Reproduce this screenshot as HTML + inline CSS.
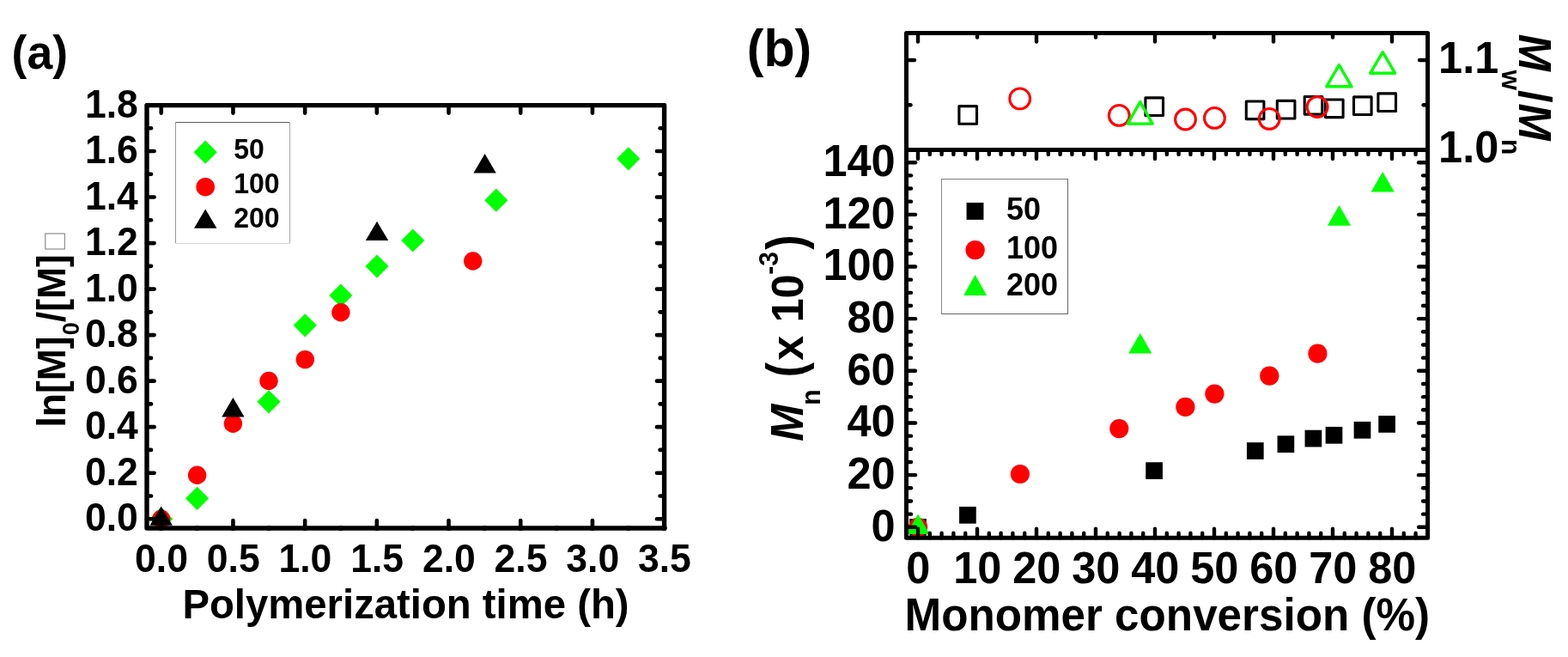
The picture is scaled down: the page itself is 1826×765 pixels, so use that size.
<!DOCTYPE html>
<html><head><meta charset="utf-8"><title>Polymerization kinetics</title>
<style>
html,body{margin:0;padding:0;background:#fff;}
body{width:1826px;height:765px;overflow:hidden;}
svg{display:block;}
text{font-family:"Liberation Sans", Arial, sans-serif;fill:#000;}
</style></head><body>
<svg width="1826" height="765" viewBox="0 0 1826 765">
<rect width="1826" height="765" fill="#fff"/>
<path d="M187.70 590.60L201.30 604.20L187.70 617.80L174.10 604.20Z" fill="#00ff00"/>
<path d="M229.60 566.70L243.20 580.30L229.60 593.90L216.00 580.30Z" fill="#00ff00"/>
<path d="M313.00 454.20L326.60 467.80L313.00 481.40L299.40 467.80Z" fill="#00ff00"/>
<path d="M355.30 365.20L368.90 378.80L355.30 392.40L341.70 378.80Z" fill="#00ff00"/>
<path d="M396.90 330.40L410.50 344.00L396.90 357.60L383.30 344.00Z" fill="#00ff00"/>
<path d="M439.00 296.50L452.60 310.10L439.00 323.70L425.40 310.10Z" fill="#00ff00"/>
<path d="M480.80 266.40L494.40 280.00L480.80 293.60L467.20 280.00Z" fill="#00ff00"/>
<path d="M577.80 219.60L591.40 233.20L577.80 246.80L564.20 233.20Z" fill="#00ff00"/>
<path d="M731.80 171.20L745.40 184.80L731.80 198.40L718.20 184.80Z" fill="#00ff00"/>
<circle cx="187.70" cy="604.20" r="10.7" fill="#ff0000"/>
<circle cx="229.60" cy="553.30" r="10.7" fill="#ff0000"/>
<circle cx="271.40" cy="493.20" r="10.7" fill="#ff0000"/>
<circle cx="313.00" cy="443.50" r="10.7" fill="#ff0000"/>
<circle cx="355.30" cy="418.60" r="10.7" fill="#ff0000"/>
<circle cx="396.90" cy="363.70" r="10.7" fill="#ff0000"/>
<circle cx="550.70" cy="304.00" r="10.7" fill="#ff0000"/>
<path d="M187.70 589.50L200.90 611.80L174.50 611.80Z" fill="#000"/>
<path d="M271.40 463.10L284.60 485.40L258.20 485.40Z" fill="#000"/>
<path d="M439.00 257.80L452.20 280.10L425.80 280.10Z" fill="#000"/>
<path d="M564.60 179.10L577.80 201.40L551.40 201.40Z" fill="#000"/>
<rect x="171.0" y="122.6" width="602.60" height="492.40" fill="none" stroke="#000" stroke-width="5.4" stroke-linejoin="round"/>
<line x1="187.74" y1="615.00" x2="187.74" y2="606.00" stroke="#000" stroke-width="4.6" stroke-linecap="round"/>
<line x1="187.74" y1="122.60" x2="187.74" y2="131.60" stroke="#000" stroke-width="4.6" stroke-linecap="round"/>
<line x1="271.44" y1="615.00" x2="271.44" y2="606.00" stroke="#000" stroke-width="4.6" stroke-linecap="round"/>
<line x1="271.44" y1="122.60" x2="271.44" y2="131.60" stroke="#000" stroke-width="4.6" stroke-linecap="round"/>
<line x1="355.14" y1="615.00" x2="355.14" y2="606.00" stroke="#000" stroke-width="4.6" stroke-linecap="round"/>
<line x1="355.14" y1="122.60" x2="355.14" y2="131.60" stroke="#000" stroke-width="4.6" stroke-linecap="round"/>
<line x1="438.84" y1="615.00" x2="438.84" y2="606.00" stroke="#000" stroke-width="4.6" stroke-linecap="round"/>
<line x1="438.84" y1="122.60" x2="438.84" y2="131.60" stroke="#000" stroke-width="4.6" stroke-linecap="round"/>
<line x1="522.54" y1="615.00" x2="522.54" y2="606.00" stroke="#000" stroke-width="4.6" stroke-linecap="round"/>
<line x1="522.54" y1="122.60" x2="522.54" y2="131.60" stroke="#000" stroke-width="4.6" stroke-linecap="round"/>
<line x1="606.24" y1="615.00" x2="606.24" y2="606.00" stroke="#000" stroke-width="4.6" stroke-linecap="round"/>
<line x1="606.24" y1="122.60" x2="606.24" y2="131.60" stroke="#000" stroke-width="4.6" stroke-linecap="round"/>
<line x1="689.94" y1="615.00" x2="689.94" y2="606.00" stroke="#000" stroke-width="4.6" stroke-linecap="round"/>
<line x1="689.94" y1="122.60" x2="689.94" y2="131.60" stroke="#000" stroke-width="4.6" stroke-linecap="round"/>
<line x1="773.64" y1="615.00" x2="773.64" y2="606.00" stroke="#000" stroke-width="4.6" stroke-linecap="round"/>
<line x1="773.64" y1="122.60" x2="773.64" y2="131.60" stroke="#000" stroke-width="4.6" stroke-linecap="round"/>
<line x1="187.74" y1="615.00" x2="187.74" y2="615.01" stroke="#000" stroke-width="6.2" stroke-linecap="round"/>
<line x1="229.59" y1="615.00" x2="229.59" y2="615.01" stroke="#000" stroke-width="6.2" stroke-linecap="round"/>
<line x1="271.44" y1="615.00" x2="271.44" y2="615.01" stroke="#000" stroke-width="6.2" stroke-linecap="round"/>
<line x1="313.29" y1="615.00" x2="313.29" y2="615.01" stroke="#000" stroke-width="6.2" stroke-linecap="round"/>
<line x1="355.14" y1="615.00" x2="355.14" y2="615.01" stroke="#000" stroke-width="6.2" stroke-linecap="round"/>
<line x1="396.99" y1="615.00" x2="396.99" y2="615.01" stroke="#000" stroke-width="6.2" stroke-linecap="round"/>
<line x1="438.84" y1="615.00" x2="438.84" y2="615.01" stroke="#000" stroke-width="6.2" stroke-linecap="round"/>
<line x1="480.69" y1="615.00" x2="480.69" y2="615.01" stroke="#000" stroke-width="6.2" stroke-linecap="round"/>
<line x1="522.54" y1="615.00" x2="522.54" y2="615.01" stroke="#000" stroke-width="6.2" stroke-linecap="round"/>
<line x1="564.39" y1="615.00" x2="564.39" y2="615.01" stroke="#000" stroke-width="6.2" stroke-linecap="round"/>
<line x1="606.24" y1="615.00" x2="606.24" y2="615.01" stroke="#000" stroke-width="6.2" stroke-linecap="round"/>
<line x1="648.09" y1="615.00" x2="648.09" y2="615.01" stroke="#000" stroke-width="6.2" stroke-linecap="round"/>
<line x1="689.94" y1="615.00" x2="689.94" y2="615.01" stroke="#000" stroke-width="6.2" stroke-linecap="round"/>
<line x1="731.79" y1="615.00" x2="731.79" y2="615.01" stroke="#000" stroke-width="6.2" stroke-linecap="round"/>
<line x1="773.64" y1="615.00" x2="773.64" y2="615.01" stroke="#000" stroke-width="6.2" stroke-linecap="round"/>
<line x1="171.00" y1="604.20" x2="179.60" y2="604.20" stroke="#000" stroke-width="4.6" stroke-linecap="round"/>
<line x1="773.60" y1="604.20" x2="765.00" y2="604.20" stroke="#000" stroke-width="4.6" stroke-linecap="round"/>
<line x1="171.00" y1="577.44" x2="176.00" y2="577.44" stroke="#000" stroke-width="4.6" stroke-linecap="round"/>
<line x1="773.60" y1="577.44" x2="768.60" y2="577.44" stroke="#000" stroke-width="4.6" stroke-linecap="round"/>
<line x1="171.00" y1="550.68" x2="179.60" y2="550.68" stroke="#000" stroke-width="4.6" stroke-linecap="round"/>
<line x1="773.60" y1="550.68" x2="765.00" y2="550.68" stroke="#000" stroke-width="4.6" stroke-linecap="round"/>
<line x1="171.00" y1="523.92" x2="176.00" y2="523.92" stroke="#000" stroke-width="4.6" stroke-linecap="round"/>
<line x1="773.60" y1="523.92" x2="768.60" y2="523.92" stroke="#000" stroke-width="4.6" stroke-linecap="round"/>
<line x1="171.00" y1="497.16" x2="179.60" y2="497.16" stroke="#000" stroke-width="4.6" stroke-linecap="round"/>
<line x1="773.60" y1="497.16" x2="765.00" y2="497.16" stroke="#000" stroke-width="4.6" stroke-linecap="round"/>
<line x1="171.00" y1="470.40" x2="176.00" y2="470.40" stroke="#000" stroke-width="4.6" stroke-linecap="round"/>
<line x1="773.60" y1="470.40" x2="768.60" y2="470.40" stroke="#000" stroke-width="4.6" stroke-linecap="round"/>
<line x1="171.00" y1="443.64" x2="179.60" y2="443.64" stroke="#000" stroke-width="4.6" stroke-linecap="round"/>
<line x1="773.60" y1="443.64" x2="765.00" y2="443.64" stroke="#000" stroke-width="4.6" stroke-linecap="round"/>
<line x1="171.00" y1="416.88" x2="176.00" y2="416.88" stroke="#000" stroke-width="4.6" stroke-linecap="round"/>
<line x1="773.60" y1="416.88" x2="768.60" y2="416.88" stroke="#000" stroke-width="4.6" stroke-linecap="round"/>
<line x1="171.00" y1="390.12" x2="179.60" y2="390.12" stroke="#000" stroke-width="4.6" stroke-linecap="round"/>
<line x1="773.60" y1="390.12" x2="765.00" y2="390.12" stroke="#000" stroke-width="4.6" stroke-linecap="round"/>
<line x1="171.00" y1="363.36" x2="176.00" y2="363.36" stroke="#000" stroke-width="4.6" stroke-linecap="round"/>
<line x1="773.60" y1="363.36" x2="768.60" y2="363.36" stroke="#000" stroke-width="4.6" stroke-linecap="round"/>
<line x1="171.00" y1="336.60" x2="179.60" y2="336.60" stroke="#000" stroke-width="4.6" stroke-linecap="round"/>
<line x1="773.60" y1="336.60" x2="765.00" y2="336.60" stroke="#000" stroke-width="4.6" stroke-linecap="round"/>
<line x1="171.00" y1="309.84" x2="176.00" y2="309.84" stroke="#000" stroke-width="4.6" stroke-linecap="round"/>
<line x1="773.60" y1="309.84" x2="768.60" y2="309.84" stroke="#000" stroke-width="4.6" stroke-linecap="round"/>
<line x1="171.00" y1="283.08" x2="179.60" y2="283.08" stroke="#000" stroke-width="4.6" stroke-linecap="round"/>
<line x1="773.60" y1="283.08" x2="765.00" y2="283.08" stroke="#000" stroke-width="4.6" stroke-linecap="round"/>
<line x1="171.00" y1="256.32" x2="176.00" y2="256.32" stroke="#000" stroke-width="4.6" stroke-linecap="round"/>
<line x1="773.60" y1="256.32" x2="768.60" y2="256.32" stroke="#000" stroke-width="4.6" stroke-linecap="round"/>
<line x1="171.00" y1="229.56" x2="179.60" y2="229.56" stroke="#000" stroke-width="4.6" stroke-linecap="round"/>
<line x1="773.60" y1="229.56" x2="765.00" y2="229.56" stroke="#000" stroke-width="4.6" stroke-linecap="round"/>
<line x1="171.00" y1="202.80" x2="176.00" y2="202.80" stroke="#000" stroke-width="4.6" stroke-linecap="round"/>
<line x1="773.60" y1="202.80" x2="768.60" y2="202.80" stroke="#000" stroke-width="4.6" stroke-linecap="round"/>
<line x1="171.00" y1="176.04" x2="179.60" y2="176.04" stroke="#000" stroke-width="4.6" stroke-linecap="round"/>
<line x1="773.60" y1="176.04" x2="765.00" y2="176.04" stroke="#000" stroke-width="4.6" stroke-linecap="round"/>
<line x1="171.00" y1="149.28" x2="176.00" y2="149.28" stroke="#000" stroke-width="4.6" stroke-linecap="round"/>
<line x1="773.60" y1="149.28" x2="768.60" y2="149.28" stroke="#000" stroke-width="4.6" stroke-linecap="round"/>
<line x1="171.00" y1="122.52" x2="179.60" y2="122.52" stroke="#000" stroke-width="4.6" stroke-linecap="round"/>
<line x1="773.60" y1="122.52" x2="765.00" y2="122.52" stroke="#000" stroke-width="4.6" stroke-linecap="round"/>
<text transform="translate(160.80,618.20) scale(1,1.03)" font-size="44.5" font-weight="bold" text-anchor="end">0.0</text>
<text transform="translate(160.80,564.68) scale(1,1.03)" font-size="44.5" font-weight="bold" text-anchor="end">0.2</text>
<text transform="translate(160.80,511.16) scale(1,1.03)" font-size="44.5" font-weight="bold" text-anchor="end">0.4</text>
<text transform="translate(160.80,457.64) scale(1,1.03)" font-size="44.5" font-weight="bold" text-anchor="end">0.6</text>
<text transform="translate(160.80,404.12) scale(1,1.03)" font-size="44.5" font-weight="bold" text-anchor="end">0.8</text>
<text transform="translate(160.80,350.60) scale(1,1.03)" font-size="44.5" font-weight="bold" text-anchor="end">1.0</text>
<text transform="translate(160.80,297.08) scale(1,1.03)" font-size="44.5" font-weight="bold" text-anchor="end">1.2</text>
<text transform="translate(160.80,243.56) scale(1,1.03)" font-size="44.5" font-weight="bold" text-anchor="end">1.4</text>
<text transform="translate(160.80,190.04) scale(1,1.03)" font-size="44.5" font-weight="bold" text-anchor="end">1.6</text>
<text transform="translate(160.80,136.52) scale(1,1.03)" font-size="44.5" font-weight="bold" text-anchor="end">1.8</text>
<text transform="translate(188.04,666.00) scale(1,1.03)" font-size="44.5" font-weight="bold" text-anchor="middle">0.0</text>
<text transform="translate(271.74,666.00) scale(1,1.03)" font-size="44.5" font-weight="bold" text-anchor="middle">0.5</text>
<text transform="translate(355.44,666.00) scale(1,1.03)" font-size="44.5" font-weight="bold" text-anchor="middle">1.0</text>
<text transform="translate(439.14,666.00) scale(1,1.03)" font-size="44.5" font-weight="bold" text-anchor="middle">1.5</text>
<text transform="translate(522.84,666.00) scale(1,1.03)" font-size="44.5" font-weight="bold" text-anchor="middle">2.0</text>
<text transform="translate(606.54,666.00) scale(1,1.03)" font-size="44.5" font-weight="bold" text-anchor="middle">2.5</text>
<text transform="translate(690.24,666.00) scale(1,1.03)" font-size="44.5" font-weight="bold" text-anchor="middle">3.0</text>
<text transform="translate(773.94,666.00) scale(1,1.03)" font-size="44.5" font-weight="bold" text-anchor="middle">3.5</text>
<text transform="translate(472.50,719.70) scale(1,1.03)" font-size="47.3" font-weight="bold" text-anchor="middle">Polymerization time (h)</text>
<text transform="translate(13.62,80.30) scale(1,1.03)" font-size="53.5" font-weight="bold" text-anchor="start">(a)</text>
<text transform="translate(75.70,497.60) rotate(-90) scale(1,1.03)" font-size="44.5" font-weight="bold" text-anchor="start">ln[M]</text>
<text transform="translate(91.60,390.20) rotate(-90) scale(1,1.03)" font-size="27" font-weight="bold" text-anchor="start">0</text>
<text transform="translate(75.70,375.20) rotate(-90) scale(1,1.03)" font-size="44.5" font-weight="bold" text-anchor="start">/[M]</text>
<rect x="52.8" y="272.0" width="22.5" height="18.0" fill="none" stroke="#777" stroke-width="1"/>
<line x1="204" y1="142.5" x2="337.5" y2="142.5" stroke="#5a5a5a" stroke-width="1"/>
<line x1="204.5" y1="142" x2="204.5" y2="284" stroke="#9a9a9a" stroke-width="1"/>
<line x1="337.5" y1="143" x2="337.5" y2="284" stroke="#a8a8a8" stroke-width="1"/>
<line x1="204" y1="283.5" x2="338" y2="283.5" stroke="#d8d8d8" stroke-width="1"/>
<path d="M239.20 163.60L252.80 177.20L239.20 190.80L225.60 177.20Z" fill="#00ff00"/>
<circle cx="239.20" cy="217.70" r="10.8" fill="#ff0000"/>
<path d="M239.20 243.40L252.40 265.70L226.00 265.70Z" fill="#000"/>
<text transform="translate(272.20,184.70) scale(1,1.03)" font-size="32" font-weight="bold" text-anchor="start">50</text>
<text transform="translate(272.20,225.20) scale(1,1.03)" font-size="32" font-weight="bold" text-anchor="start">100</text>
<text transform="translate(272.20,264.90) scale(1,1.03)" font-size="32" font-weight="bold" text-anchor="start">200</text>
<rect x="1059.15" y="604.05" width="19.7" height="19.7" fill="#000"/>
<rect x="1117.05" y="589.95" width="19.7" height="19.7" fill="#000"/>
<rect x="1334.25" y="538.25" width="19.7" height="19.7" fill="#000"/>
<rect x="1451.95" y="515.15" width="19.7" height="19.7" fill="#000"/>
<rect x="1487.55" y="507.35" width="19.7" height="19.7" fill="#000"/>
<rect x="1519.55" y="500.75" width="19.7" height="19.7" fill="#000"/>
<rect x="1543.65" y="496.95" width="19.7" height="19.7" fill="#000"/>
<rect x="1576.65" y="490.95" width="19.7" height="19.7" fill="#000"/>
<rect x="1605.25" y="484.05" width="19.7" height="19.7" fill="#000"/>
<circle cx="1069.10" cy="613.80" r="11.1" fill="#ff0000"/>
<circle cx="1187.90" cy="552.00" r="11.1" fill="#ff0000"/>
<circle cx="1303.30" cy="499.10" r="11.1" fill="#ff0000"/>
<circle cx="1380.40" cy="473.90" r="11.1" fill="#ff0000"/>
<circle cx="1414.40" cy="458.60" r="11.1" fill="#ff0000"/>
<circle cx="1478.30" cy="437.70" r="11.1" fill="#ff0000"/>
<circle cx="1534.40" cy="411.70" r="11.1" fill="#ff0000"/>
<path d="M1069.10 598.40L1082.70 622.00L1055.50 622.00Z" fill="#00ff00"/>
<path d="M1327.80 388.00L1341.40 411.60L1314.20 411.60Z" fill="#00ff00"/>
<path d="M1559.50 239.10L1573.10 262.70L1545.90 262.70Z" fill="#00ff00"/>
<path d="M1610.20 199.90L1623.80 223.50L1596.60 223.50Z" fill="#00ff00"/>
<rect x="1116.90" y="123.60" width="20.6" height="20.6" fill="none" stroke="#000" stroke-width="3.1" stroke-linejoin="round"/>
<rect x="1333.90" y="113.90" width="20.6" height="20.6" fill="none" stroke="#000" stroke-width="3.1" stroke-linejoin="round"/>
<rect x="1451.30" y="118.00" width="20.6" height="20.6" fill="none" stroke="#000" stroke-width="3.1" stroke-linejoin="round"/>
<rect x="1487.30" y="117.40" width="20.6" height="20.6" fill="none" stroke="#000" stroke-width="3.1" stroke-linejoin="round"/>
<rect x="1519.20" y="112.50" width="20.6" height="20.6" fill="none" stroke="#000" stroke-width="3.1" stroke-linejoin="round"/>
<rect x="1543.50" y="116.00" width="20.6" height="20.6" fill="none" stroke="#000" stroke-width="3.1" stroke-linejoin="round"/>
<rect x="1576.50" y="112.90" width="20.6" height="20.6" fill="none" stroke="#000" stroke-width="3.1" stroke-linejoin="round"/>
<rect x="1604.90" y="108.90" width="20.6" height="20.6" fill="none" stroke="#000" stroke-width="3.1" stroke-linejoin="round"/>
<circle cx="1187.70" cy="114.90" r="11.9" fill="none" stroke="#ff0000" stroke-width="3.1"/>
<circle cx="1303.30" cy="134.40" r="11.9" fill="none" stroke="#ff0000" stroke-width="3.1"/>
<circle cx="1380.50" cy="139.00" r="11.9" fill="none" stroke="#ff0000" stroke-width="3.1"/>
<circle cx="1414.40" cy="137.40" r="11.9" fill="none" stroke="#ff0000" stroke-width="3.1"/>
<circle cx="1478.20" cy="138.40" r="11.9" fill="none" stroke="#ff0000" stroke-width="3.1"/>
<circle cx="1534.10" cy="124.60" r="11.9" fill="none" stroke="#ff0000" stroke-width="3.1"/>
<path d="M1327.75 118.60L1342.20 144.10L1313.30 144.10Z" fill="none" stroke="#00ff00" stroke-width="3.4" stroke-linejoin="round"/>
<path d="M1559.40 75.60L1574.00 100.80L1544.80 100.80Z" fill="none" stroke="#00ff00" stroke-width="3.4" stroke-linejoin="round"/>
<path d="M1610.20 60.70L1624.60 85.20L1595.80 85.20Z" fill="none" stroke="#00ff00" stroke-width="3.4" stroke-linejoin="round"/>
<rect x="1055.5" y="38.6" width="607.10" height="587.70" fill="none" stroke="#000" stroke-width="5.0" stroke-linejoin="round"/>
<line x1="1055.50" y1="174.40" x2="1662.60" y2="174.40" stroke="#000" stroke-width="5.0" stroke-linecap="butt"/>
<line x1="1069.00" y1="38.60" x2="1069.00" y2="48.60" stroke="#000" stroke-width="4.4" stroke-linecap="round"/>
<line x1="1138.00" y1="38.60" x2="1138.00" y2="43.60" stroke="#000" stroke-width="4.4" stroke-linecap="round"/>
<line x1="1207.00" y1="38.60" x2="1207.00" y2="48.60" stroke="#000" stroke-width="4.4" stroke-linecap="round"/>
<line x1="1276.00" y1="38.60" x2="1276.00" y2="43.60" stroke="#000" stroke-width="4.4" stroke-linecap="round"/>
<line x1="1345.00" y1="38.60" x2="1345.00" y2="48.60" stroke="#000" stroke-width="4.4" stroke-linecap="round"/>
<line x1="1414.00" y1="38.60" x2="1414.00" y2="43.60" stroke="#000" stroke-width="4.4" stroke-linecap="round"/>
<line x1="1483.00" y1="38.60" x2="1483.00" y2="48.60" stroke="#000" stroke-width="4.4" stroke-linecap="round"/>
<line x1="1552.00" y1="38.60" x2="1552.00" y2="43.60" stroke="#000" stroke-width="4.4" stroke-linecap="round"/>
<line x1="1621.00" y1="38.60" x2="1621.00" y2="48.60" stroke="#000" stroke-width="4.4" stroke-linecap="round"/>
<line x1="1055.50" y1="70.00" x2="1065.00" y2="70.00" stroke="#000" stroke-width="4.4" stroke-linecap="round"/>
<line x1="1662.60" y1="70.00" x2="1653.10" y2="70.00" stroke="#000" stroke-width="4.4" stroke-linecap="round"/>
<line x1="1055.50" y1="122.20" x2="1060.50" y2="122.20" stroke="#000" stroke-width="4.4" stroke-linecap="round"/>
<line x1="1662.60" y1="122.20" x2="1657.60" y2="122.20" stroke="#000" stroke-width="4.4" stroke-linecap="round"/>
<line x1="1069.00" y1="174.40" x2="1069.00" y2="184.90" stroke="#000" stroke-width="4.4" stroke-linecap="round"/>
<line x1="1069.00" y1="626.30" x2="1069.00" y2="615.80" stroke="#000" stroke-width="4.4" stroke-linecap="round"/>
<line x1="1082.80" y1="174.40" x2="1082.80" y2="179.90" stroke="#000" stroke-width="4.4" stroke-linecap="round"/>
<line x1="1082.80" y1="626.30" x2="1082.80" y2="620.80" stroke="#000" stroke-width="4.4" stroke-linecap="round"/>
<line x1="1096.60" y1="174.40" x2="1096.60" y2="179.90" stroke="#000" stroke-width="4.4" stroke-linecap="round"/>
<line x1="1096.60" y1="626.30" x2="1096.60" y2="620.80" stroke="#000" stroke-width="4.4" stroke-linecap="round"/>
<line x1="1110.40" y1="174.40" x2="1110.40" y2="179.90" stroke="#000" stroke-width="4.4" stroke-linecap="round"/>
<line x1="1110.40" y1="626.30" x2="1110.40" y2="620.80" stroke="#000" stroke-width="4.4" stroke-linecap="round"/>
<line x1="1124.20" y1="174.40" x2="1124.20" y2="179.90" stroke="#000" stroke-width="4.4" stroke-linecap="round"/>
<line x1="1124.20" y1="626.30" x2="1124.20" y2="620.80" stroke="#000" stroke-width="4.4" stroke-linecap="round"/>
<line x1="1138.00" y1="174.40" x2="1138.00" y2="184.90" stroke="#000" stroke-width="4.4" stroke-linecap="round"/>
<line x1="1138.00" y1="626.30" x2="1138.00" y2="615.80" stroke="#000" stroke-width="4.4" stroke-linecap="round"/>
<line x1="1151.80" y1="174.40" x2="1151.80" y2="179.90" stroke="#000" stroke-width="4.4" stroke-linecap="round"/>
<line x1="1151.80" y1="626.30" x2="1151.80" y2="620.80" stroke="#000" stroke-width="4.4" stroke-linecap="round"/>
<line x1="1165.60" y1="174.40" x2="1165.60" y2="179.90" stroke="#000" stroke-width="4.4" stroke-linecap="round"/>
<line x1="1165.60" y1="626.30" x2="1165.60" y2="620.80" stroke="#000" stroke-width="4.4" stroke-linecap="round"/>
<line x1="1179.40" y1="174.40" x2="1179.40" y2="179.90" stroke="#000" stroke-width="4.4" stroke-linecap="round"/>
<line x1="1179.40" y1="626.30" x2="1179.40" y2="620.80" stroke="#000" stroke-width="4.4" stroke-linecap="round"/>
<line x1="1193.20" y1="174.40" x2="1193.20" y2="179.90" stroke="#000" stroke-width="4.4" stroke-linecap="round"/>
<line x1="1193.20" y1="626.30" x2="1193.20" y2="620.80" stroke="#000" stroke-width="4.4" stroke-linecap="round"/>
<line x1="1207.00" y1="174.40" x2="1207.00" y2="184.90" stroke="#000" stroke-width="4.4" stroke-linecap="round"/>
<line x1="1207.00" y1="626.30" x2="1207.00" y2="615.80" stroke="#000" stroke-width="4.4" stroke-linecap="round"/>
<line x1="1220.80" y1="174.40" x2="1220.80" y2="179.90" stroke="#000" stroke-width="4.4" stroke-linecap="round"/>
<line x1="1220.80" y1="626.30" x2="1220.80" y2="620.80" stroke="#000" stroke-width="4.4" stroke-linecap="round"/>
<line x1="1234.60" y1="174.40" x2="1234.60" y2="179.90" stroke="#000" stroke-width="4.4" stroke-linecap="round"/>
<line x1="1234.60" y1="626.30" x2="1234.60" y2="620.80" stroke="#000" stroke-width="4.4" stroke-linecap="round"/>
<line x1="1248.40" y1="174.40" x2="1248.40" y2="179.90" stroke="#000" stroke-width="4.4" stroke-linecap="round"/>
<line x1="1248.40" y1="626.30" x2="1248.40" y2="620.80" stroke="#000" stroke-width="4.4" stroke-linecap="round"/>
<line x1="1262.20" y1="174.40" x2="1262.20" y2="179.90" stroke="#000" stroke-width="4.4" stroke-linecap="round"/>
<line x1="1262.20" y1="626.30" x2="1262.20" y2="620.80" stroke="#000" stroke-width="4.4" stroke-linecap="round"/>
<line x1="1276.00" y1="174.40" x2="1276.00" y2="184.90" stroke="#000" stroke-width="4.4" stroke-linecap="round"/>
<line x1="1276.00" y1="626.30" x2="1276.00" y2="615.80" stroke="#000" stroke-width="4.4" stroke-linecap="round"/>
<line x1="1289.80" y1="174.40" x2="1289.80" y2="179.90" stroke="#000" stroke-width="4.4" stroke-linecap="round"/>
<line x1="1289.80" y1="626.30" x2="1289.80" y2="620.80" stroke="#000" stroke-width="4.4" stroke-linecap="round"/>
<line x1="1303.60" y1="174.40" x2="1303.60" y2="179.90" stroke="#000" stroke-width="4.4" stroke-linecap="round"/>
<line x1="1303.60" y1="626.30" x2="1303.60" y2="620.80" stroke="#000" stroke-width="4.4" stroke-linecap="round"/>
<line x1="1317.40" y1="174.40" x2="1317.40" y2="179.90" stroke="#000" stroke-width="4.4" stroke-linecap="round"/>
<line x1="1317.40" y1="626.30" x2="1317.40" y2="620.80" stroke="#000" stroke-width="4.4" stroke-linecap="round"/>
<line x1="1331.20" y1="174.40" x2="1331.20" y2="179.90" stroke="#000" stroke-width="4.4" stroke-linecap="round"/>
<line x1="1331.20" y1="626.30" x2="1331.20" y2="620.80" stroke="#000" stroke-width="4.4" stroke-linecap="round"/>
<line x1="1345.00" y1="174.40" x2="1345.00" y2="184.90" stroke="#000" stroke-width="4.4" stroke-linecap="round"/>
<line x1="1345.00" y1="626.30" x2="1345.00" y2="615.80" stroke="#000" stroke-width="4.4" stroke-linecap="round"/>
<line x1="1358.80" y1="174.40" x2="1358.80" y2="179.90" stroke="#000" stroke-width="4.4" stroke-linecap="round"/>
<line x1="1358.80" y1="626.30" x2="1358.80" y2="620.80" stroke="#000" stroke-width="4.4" stroke-linecap="round"/>
<line x1="1372.60" y1="174.40" x2="1372.60" y2="179.90" stroke="#000" stroke-width="4.4" stroke-linecap="round"/>
<line x1="1372.60" y1="626.30" x2="1372.60" y2="620.80" stroke="#000" stroke-width="4.4" stroke-linecap="round"/>
<line x1="1386.40" y1="174.40" x2="1386.40" y2="179.90" stroke="#000" stroke-width="4.4" stroke-linecap="round"/>
<line x1="1386.40" y1="626.30" x2="1386.40" y2="620.80" stroke="#000" stroke-width="4.4" stroke-linecap="round"/>
<line x1="1400.20" y1="174.40" x2="1400.20" y2="179.90" stroke="#000" stroke-width="4.4" stroke-linecap="round"/>
<line x1="1400.20" y1="626.30" x2="1400.20" y2="620.80" stroke="#000" stroke-width="4.4" stroke-linecap="round"/>
<line x1="1414.00" y1="174.40" x2="1414.00" y2="184.90" stroke="#000" stroke-width="4.4" stroke-linecap="round"/>
<line x1="1414.00" y1="626.30" x2="1414.00" y2="615.80" stroke="#000" stroke-width="4.4" stroke-linecap="round"/>
<line x1="1427.80" y1="174.40" x2="1427.80" y2="179.90" stroke="#000" stroke-width="4.4" stroke-linecap="round"/>
<line x1="1427.80" y1="626.30" x2="1427.80" y2="620.80" stroke="#000" stroke-width="4.4" stroke-linecap="round"/>
<line x1="1441.60" y1="174.40" x2="1441.60" y2="179.90" stroke="#000" stroke-width="4.4" stroke-linecap="round"/>
<line x1="1441.60" y1="626.30" x2="1441.60" y2="620.80" stroke="#000" stroke-width="4.4" stroke-linecap="round"/>
<line x1="1455.40" y1="174.40" x2="1455.40" y2="179.90" stroke="#000" stroke-width="4.4" stroke-linecap="round"/>
<line x1="1455.40" y1="626.30" x2="1455.40" y2="620.80" stroke="#000" stroke-width="4.4" stroke-linecap="round"/>
<line x1="1469.20" y1="174.40" x2="1469.20" y2="179.90" stroke="#000" stroke-width="4.4" stroke-linecap="round"/>
<line x1="1469.20" y1="626.30" x2="1469.20" y2="620.80" stroke="#000" stroke-width="4.4" stroke-linecap="round"/>
<line x1="1483.00" y1="174.40" x2="1483.00" y2="184.90" stroke="#000" stroke-width="4.4" stroke-linecap="round"/>
<line x1="1483.00" y1="626.30" x2="1483.00" y2="615.80" stroke="#000" stroke-width="4.4" stroke-linecap="round"/>
<line x1="1496.80" y1="174.40" x2="1496.80" y2="179.90" stroke="#000" stroke-width="4.4" stroke-linecap="round"/>
<line x1="1496.80" y1="626.30" x2="1496.80" y2="620.80" stroke="#000" stroke-width="4.4" stroke-linecap="round"/>
<line x1="1510.60" y1="174.40" x2="1510.60" y2="179.90" stroke="#000" stroke-width="4.4" stroke-linecap="round"/>
<line x1="1510.60" y1="626.30" x2="1510.60" y2="620.80" stroke="#000" stroke-width="4.4" stroke-linecap="round"/>
<line x1="1524.40" y1="174.40" x2="1524.40" y2="179.90" stroke="#000" stroke-width="4.4" stroke-linecap="round"/>
<line x1="1524.40" y1="626.30" x2="1524.40" y2="620.80" stroke="#000" stroke-width="4.4" stroke-linecap="round"/>
<line x1="1538.20" y1="174.40" x2="1538.20" y2="179.90" stroke="#000" stroke-width="4.4" stroke-linecap="round"/>
<line x1="1538.20" y1="626.30" x2="1538.20" y2="620.80" stroke="#000" stroke-width="4.4" stroke-linecap="round"/>
<line x1="1552.00" y1="174.40" x2="1552.00" y2="184.90" stroke="#000" stroke-width="4.4" stroke-linecap="round"/>
<line x1="1552.00" y1="626.30" x2="1552.00" y2="615.80" stroke="#000" stroke-width="4.4" stroke-linecap="round"/>
<line x1="1565.80" y1="174.40" x2="1565.80" y2="179.90" stroke="#000" stroke-width="4.4" stroke-linecap="round"/>
<line x1="1565.80" y1="626.30" x2="1565.80" y2="620.80" stroke="#000" stroke-width="4.4" stroke-linecap="round"/>
<line x1="1579.60" y1="174.40" x2="1579.60" y2="179.90" stroke="#000" stroke-width="4.4" stroke-linecap="round"/>
<line x1="1579.60" y1="626.30" x2="1579.60" y2="620.80" stroke="#000" stroke-width="4.4" stroke-linecap="round"/>
<line x1="1593.40" y1="174.40" x2="1593.40" y2="179.90" stroke="#000" stroke-width="4.4" stroke-linecap="round"/>
<line x1="1593.40" y1="626.30" x2="1593.40" y2="620.80" stroke="#000" stroke-width="4.4" stroke-linecap="round"/>
<line x1="1607.20" y1="174.40" x2="1607.20" y2="179.90" stroke="#000" stroke-width="4.4" stroke-linecap="round"/>
<line x1="1607.20" y1="626.30" x2="1607.20" y2="620.80" stroke="#000" stroke-width="4.4" stroke-linecap="round"/>
<line x1="1621.00" y1="174.40" x2="1621.00" y2="184.90" stroke="#000" stroke-width="4.4" stroke-linecap="round"/>
<line x1="1621.00" y1="626.30" x2="1621.00" y2="615.80" stroke="#000" stroke-width="4.4" stroke-linecap="round"/>
<line x1="1634.80" y1="174.40" x2="1634.80" y2="179.90" stroke="#000" stroke-width="4.4" stroke-linecap="round"/>
<line x1="1634.80" y1="626.30" x2="1634.80" y2="620.80" stroke="#000" stroke-width="4.4" stroke-linecap="round"/>
<line x1="1648.60" y1="174.40" x2="1648.60" y2="179.90" stroke="#000" stroke-width="4.4" stroke-linecap="round"/>
<line x1="1648.60" y1="626.30" x2="1648.60" y2="620.80" stroke="#000" stroke-width="4.4" stroke-linecap="round"/>
<line x1="1055.50" y1="613.80" x2="1066.00" y2="613.80" stroke="#000" stroke-width="4.4" stroke-linecap="round"/>
<line x1="1662.60" y1="613.80" x2="1652.10" y2="613.80" stroke="#000" stroke-width="4.4" stroke-linecap="round"/>
<line x1="1055.50" y1="598.63" x2="1061.00" y2="598.63" stroke="#000" stroke-width="4.4" stroke-linecap="round"/>
<line x1="1662.60" y1="598.63" x2="1657.10" y2="598.63" stroke="#000" stroke-width="4.4" stroke-linecap="round"/>
<line x1="1055.50" y1="583.47" x2="1061.00" y2="583.47" stroke="#000" stroke-width="4.4" stroke-linecap="round"/>
<line x1="1662.60" y1="583.47" x2="1657.10" y2="583.47" stroke="#000" stroke-width="4.4" stroke-linecap="round"/>
<line x1="1055.50" y1="568.30" x2="1061.00" y2="568.30" stroke="#000" stroke-width="4.4" stroke-linecap="round"/>
<line x1="1662.60" y1="568.30" x2="1657.10" y2="568.30" stroke="#000" stroke-width="4.4" stroke-linecap="round"/>
<line x1="1055.50" y1="553.14" x2="1066.00" y2="553.14" stroke="#000" stroke-width="4.4" stroke-linecap="round"/>
<line x1="1662.60" y1="553.14" x2="1652.10" y2="553.14" stroke="#000" stroke-width="4.4" stroke-linecap="round"/>
<line x1="1055.50" y1="537.97" x2="1061.00" y2="537.97" stroke="#000" stroke-width="4.4" stroke-linecap="round"/>
<line x1="1662.60" y1="537.97" x2="1657.10" y2="537.97" stroke="#000" stroke-width="4.4" stroke-linecap="round"/>
<line x1="1055.50" y1="522.81" x2="1061.00" y2="522.81" stroke="#000" stroke-width="4.4" stroke-linecap="round"/>
<line x1="1662.60" y1="522.81" x2="1657.10" y2="522.81" stroke="#000" stroke-width="4.4" stroke-linecap="round"/>
<line x1="1055.50" y1="507.64" x2="1061.00" y2="507.64" stroke="#000" stroke-width="4.4" stroke-linecap="round"/>
<line x1="1662.60" y1="507.64" x2="1657.10" y2="507.64" stroke="#000" stroke-width="4.4" stroke-linecap="round"/>
<line x1="1055.50" y1="492.48" x2="1066.00" y2="492.48" stroke="#000" stroke-width="4.4" stroke-linecap="round"/>
<line x1="1662.60" y1="492.48" x2="1652.10" y2="492.48" stroke="#000" stroke-width="4.4" stroke-linecap="round"/>
<line x1="1055.50" y1="477.31" x2="1061.00" y2="477.31" stroke="#000" stroke-width="4.4" stroke-linecap="round"/>
<line x1="1662.60" y1="477.31" x2="1657.10" y2="477.31" stroke="#000" stroke-width="4.4" stroke-linecap="round"/>
<line x1="1055.50" y1="462.15" x2="1061.00" y2="462.15" stroke="#000" stroke-width="4.4" stroke-linecap="round"/>
<line x1="1662.60" y1="462.15" x2="1657.10" y2="462.15" stroke="#000" stroke-width="4.4" stroke-linecap="round"/>
<line x1="1055.50" y1="446.98" x2="1061.00" y2="446.98" stroke="#000" stroke-width="4.4" stroke-linecap="round"/>
<line x1="1662.60" y1="446.98" x2="1657.10" y2="446.98" stroke="#000" stroke-width="4.4" stroke-linecap="round"/>
<line x1="1055.50" y1="431.82" x2="1066.00" y2="431.82" stroke="#000" stroke-width="4.4" stroke-linecap="round"/>
<line x1="1662.60" y1="431.82" x2="1652.10" y2="431.82" stroke="#000" stroke-width="4.4" stroke-linecap="round"/>
<line x1="1055.50" y1="416.65" x2="1061.00" y2="416.65" stroke="#000" stroke-width="4.4" stroke-linecap="round"/>
<line x1="1662.60" y1="416.65" x2="1657.10" y2="416.65" stroke="#000" stroke-width="4.4" stroke-linecap="round"/>
<line x1="1055.50" y1="401.49" x2="1061.00" y2="401.49" stroke="#000" stroke-width="4.4" stroke-linecap="round"/>
<line x1="1662.60" y1="401.49" x2="1657.10" y2="401.49" stroke="#000" stroke-width="4.4" stroke-linecap="round"/>
<line x1="1055.50" y1="386.32" x2="1061.00" y2="386.32" stroke="#000" stroke-width="4.4" stroke-linecap="round"/>
<line x1="1662.60" y1="386.32" x2="1657.10" y2="386.32" stroke="#000" stroke-width="4.4" stroke-linecap="round"/>
<line x1="1055.50" y1="371.16" x2="1066.00" y2="371.16" stroke="#000" stroke-width="4.4" stroke-linecap="round"/>
<line x1="1662.60" y1="371.16" x2="1652.10" y2="371.16" stroke="#000" stroke-width="4.4" stroke-linecap="round"/>
<line x1="1055.50" y1="355.99" x2="1061.00" y2="355.99" stroke="#000" stroke-width="4.4" stroke-linecap="round"/>
<line x1="1662.60" y1="355.99" x2="1657.10" y2="355.99" stroke="#000" stroke-width="4.4" stroke-linecap="round"/>
<line x1="1055.50" y1="340.83" x2="1061.00" y2="340.83" stroke="#000" stroke-width="4.4" stroke-linecap="round"/>
<line x1="1662.60" y1="340.83" x2="1657.10" y2="340.83" stroke="#000" stroke-width="4.4" stroke-linecap="round"/>
<line x1="1055.50" y1="325.66" x2="1061.00" y2="325.66" stroke="#000" stroke-width="4.4" stroke-linecap="round"/>
<line x1="1662.60" y1="325.66" x2="1657.10" y2="325.66" stroke="#000" stroke-width="4.4" stroke-linecap="round"/>
<line x1="1055.50" y1="310.50" x2="1066.00" y2="310.50" stroke="#000" stroke-width="4.4" stroke-linecap="round"/>
<line x1="1662.60" y1="310.50" x2="1652.10" y2="310.50" stroke="#000" stroke-width="4.4" stroke-linecap="round"/>
<line x1="1055.50" y1="295.33" x2="1061.00" y2="295.33" stroke="#000" stroke-width="4.4" stroke-linecap="round"/>
<line x1="1662.60" y1="295.33" x2="1657.10" y2="295.33" stroke="#000" stroke-width="4.4" stroke-linecap="round"/>
<line x1="1055.50" y1="280.17" x2="1061.00" y2="280.17" stroke="#000" stroke-width="4.4" stroke-linecap="round"/>
<line x1="1662.60" y1="280.17" x2="1657.10" y2="280.17" stroke="#000" stroke-width="4.4" stroke-linecap="round"/>
<line x1="1055.50" y1="265.00" x2="1061.00" y2="265.00" stroke="#000" stroke-width="4.4" stroke-linecap="round"/>
<line x1="1662.60" y1="265.00" x2="1657.10" y2="265.00" stroke="#000" stroke-width="4.4" stroke-linecap="round"/>
<line x1="1055.50" y1="249.84" x2="1066.00" y2="249.84" stroke="#000" stroke-width="4.4" stroke-linecap="round"/>
<line x1="1662.60" y1="249.84" x2="1652.10" y2="249.84" stroke="#000" stroke-width="4.4" stroke-linecap="round"/>
<line x1="1055.50" y1="234.67" x2="1061.00" y2="234.67" stroke="#000" stroke-width="4.4" stroke-linecap="round"/>
<line x1="1662.60" y1="234.67" x2="1657.10" y2="234.67" stroke="#000" stroke-width="4.4" stroke-linecap="round"/>
<line x1="1055.50" y1="219.51" x2="1061.00" y2="219.51" stroke="#000" stroke-width="4.4" stroke-linecap="round"/>
<line x1="1662.60" y1="219.51" x2="1657.10" y2="219.51" stroke="#000" stroke-width="4.4" stroke-linecap="round"/>
<line x1="1055.50" y1="204.34" x2="1061.00" y2="204.34" stroke="#000" stroke-width="4.4" stroke-linecap="round"/>
<line x1="1662.60" y1="204.34" x2="1657.10" y2="204.34" stroke="#000" stroke-width="4.4" stroke-linecap="round"/>
<line x1="1055.50" y1="189.18" x2="1066.00" y2="189.18" stroke="#000" stroke-width="4.4" stroke-linecap="round"/>
<line x1="1662.60" y1="189.18" x2="1652.10" y2="189.18" stroke="#000" stroke-width="4.4" stroke-linecap="round"/>
<text transform="translate(1042.70,629.60) scale(1,1.03)" font-size="50.5" font-weight="bold" text-anchor="end">0</text>
<text transform="translate(1042.70,568.94) scale(1,1.03)" font-size="50.5" font-weight="bold" text-anchor="end">20</text>
<text transform="translate(1042.70,508.28) scale(1,1.03)" font-size="50.5" font-weight="bold" text-anchor="end">40</text>
<text transform="translate(1042.70,447.62) scale(1,1.03)" font-size="50.5" font-weight="bold" text-anchor="end">60</text>
<text transform="translate(1042.70,386.96) scale(1,1.03)" font-size="50.5" font-weight="bold" text-anchor="end">80</text>
<text transform="translate(1042.70,326.30) scale(1,1.03)" font-size="50.5" font-weight="bold" text-anchor="end">100</text>
<text transform="translate(1042.70,265.64) scale(1,1.03)" font-size="50.5" font-weight="bold" text-anchor="end">120</text>
<text transform="translate(1042.70,204.98) scale(1,1.03)" font-size="50.5" font-weight="bold" text-anchor="end">140</text>
<text transform="translate(1069.30,679.00) scale(1,1.03)" font-size="50.5" font-weight="bold" text-anchor="middle">0</text>
<text transform="translate(1138.30,679.00) scale(1,1.03)" font-size="50.5" font-weight="bold" text-anchor="middle">10</text>
<text transform="translate(1207.30,679.00) scale(1,1.03)" font-size="50.5" font-weight="bold" text-anchor="middle">20</text>
<text transform="translate(1276.30,679.00) scale(1,1.03)" font-size="50.5" font-weight="bold" text-anchor="middle">30</text>
<text transform="translate(1345.30,679.00) scale(1,1.03)" font-size="50.5" font-weight="bold" text-anchor="middle">40</text>
<text transform="translate(1414.30,679.00) scale(1,1.03)" font-size="50.5" font-weight="bold" text-anchor="middle">50</text>
<text transform="translate(1483.30,679.00) scale(1,1.03)" font-size="50.5" font-weight="bold" text-anchor="middle">60</text>
<text transform="translate(1552.30,679.00) scale(1,1.03)" font-size="50.5" font-weight="bold" text-anchor="middle">70</text>
<text transform="translate(1621.30,679.00) scale(1,1.03)" font-size="50.5" font-weight="bold" text-anchor="middle">80</text>
<text transform="translate(1675.12,84.70) scale(1,1.03)" font-size="50.5" font-weight="bold" text-anchor="start">1.1</text>
<text transform="translate(1675.12,189.30) scale(1,1.03)" font-size="50.5" font-weight="bold" text-anchor="start">1.0</text>
<text transform="translate(1359.30,733.70) scale(1,1.03)" font-size="51.2" font-weight="bold" text-anchor="middle">Monomer conversion (%)</text>
<text transform="translate(869.85,77.20) scale(1,1.03)" font-size="59" font-weight="bold" text-anchor="start">(b)</text>
<line x1="1096" y1="208.5" x2="1244" y2="208.5" stroke="#808080" stroke-width="1"/>
<line x1="1096.5" y1="208" x2="1096.5" y2="366" stroke="#888" stroke-width="1"/>
<line x1="1243.5" y1="208" x2="1243.5" y2="366" stroke="#666" stroke-width="1"/>
<line x1="1096" y1="365.5" x2="1244" y2="365.5" stroke="#666" stroke-width="1"/>
<rect x="1125.55" y="235.95" width="19.9" height="19.9" fill="#000"/>
<circle cx="1135.60" cy="291.10" r="11.2" fill="#ff0000"/>
<path d="M1135.60 320.10L1149.10 344.10L1122.10 344.10Z" fill="#00ff00"/>
<text transform="translate(1172.00,255.60) scale(1,1.03)" font-size="36" font-weight="bold" text-anchor="start">50</text>
<text transform="translate(1172.00,300.70) scale(1,1.03)" font-size="36" font-weight="bold" text-anchor="start">100</text>
<text transform="translate(1172.00,344.40) scale(1,1.03)" font-size="36" font-weight="bold" text-anchor="start">200</text>
<text transform="translate(935.00,513.90) rotate(-90) scale(1,1.03)" font-size="52" font-weight="bold" font-style="italic" text-anchor="start">M</text>
<text transform="translate(954.80,471.80) rotate(-90) scale(1,1.03)" font-size="30" font-weight="bold" text-anchor="start">n</text>
<text transform="translate(935,439.3) rotate(-90) scale(1,1.17)" font-size="52" font-weight="bold">(</text>
<text transform="translate(935.00,419.80) rotate(-90) scale(1,1.03)" font-size="52" font-weight="bold" text-anchor="start">x</text>
<text transform="translate(935.00,375.50) rotate(-90) scale(1,1.03)" font-size="50.5" font-weight="bold" text-anchor="start">10</text>
<text transform="translate(906.30,319.70) rotate(-90) scale(1,1.03)" font-size="30" font-weight="bold" text-anchor="start">-</text>
<text transform="translate(906.30,309.70) rotate(-90) scale(1,1.03)" font-size="30" font-weight="bold" text-anchor="start">3</text>
<text transform="translate(935,290.65) rotate(-90) scale(1,1.17)" font-size="52" font-weight="bold">)</text>
<text transform="translate(1769.30,39.60) rotate(90) scale(1,1.03)" font-size="52" font-weight="bold" font-style="italic" text-anchor="start">M</text>
<text transform="translate(1749.40,81.39) rotate(90) scale(1,1.03)" font-size="30" font-weight="bold" text-anchor="start">w</text>
<text transform="translate(1769.30,104.88) rotate(90) scale(1,1.03)" font-size="52" font-weight="bold" text-anchor="start">/</text>
<text transform="translate(1769.30,120.18) rotate(90) scale(1,1.03)" font-size="52" font-weight="bold" font-style="italic" text-anchor="start">M</text>
<text transform="translate(1749.40,162.02) rotate(90) scale(1,1.03)" font-size="30" font-weight="bold" text-anchor="start">n</text>
</svg>
</body></html>
